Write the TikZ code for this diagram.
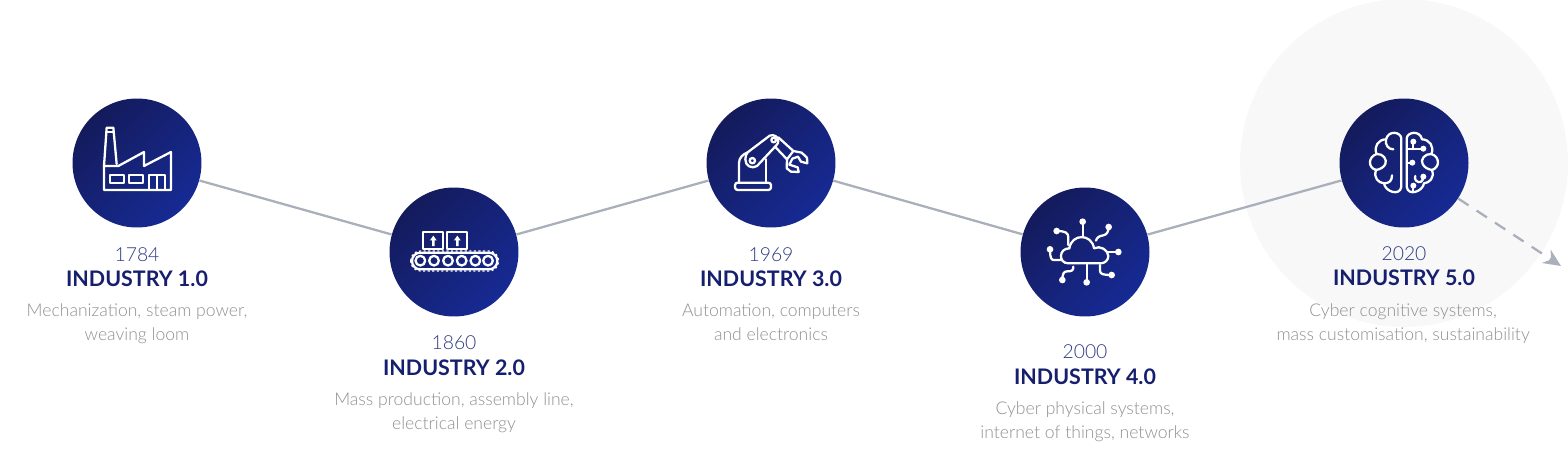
\documentclass[tikz,border=0pt]{standalone}
\usepackage{xcolor}
\usepackage{fontspec}
\setmainfont{Lato}
\newfontfamily\lightfont{Lato Light}
\usetikzlibrary{arrows.meta,positioning}
\definecolor{navydark}{HTML}{141B5C}
\definecolor{navylight}{HTML}{162A94}
\definecolor{titlecol}{HTML}{161F6E}
\definecolor{yearcol}{HTML}{2E3A80}
\definecolor{desccol}{HTML}{8F8F8F}
\definecolor{linkcol}{HTML}{A9B0BB}
\definecolor{halocol}{HTML}{F8F8F9}

\begin{document}
\begin{tikzpicture}[x=0.02cm, y=-0.02cm,
    stage/.style={circle, inner sep=0pt, minimum size=2.58cm, shading=axis, top color=navydark, bottom color=navylight, shading angle=45},
    year/.style={inner sep=0pt, text=yearcol, text height=1.6ex, text depth=0pt, font=\fontsize{11}{13}\lightfont},
    title/.style={inner sep=0pt, text=titlecol, text height=1.6ex, text depth=0pt, font=\fontsize{12.2}{14}\selectfont\bfseries},
    desc/.style={inner sep=0pt, text=desccol, align=center, font=\fontsize{10}{13.6}\lightfont},
    link/.style={draw=linkcol, line width=1.3pt},
    icon/.style n args={3}{shift={(#1.center)}, scale=1/3, shift={(#2,#3)}, draw=white, line width=1.3pt, line join=round, line cap=round},
    pin/.style={fill=white, draw=none}
]
    \useasboundingbox (0,0) rectangle (1568,473);
    % halo behind the last stage
    \fill[halocol] (1404,163) circle[radius=3.28cm];

    % stages
    \node[stage] (ind1) at (137,163) {};
    \node[stage] (ind2) at (454,252) {};
    \node[stage] (ind3) at (771,163) {};
    \node[stage] (ind4) at (1085,252) {};
    \node[stage] (ind5) at (1404,163) {};
    \coordinate (next) at (1561,266);

    % links
    \draw[link] (ind1) -- (ind2);
    \draw[link] (ind2) -- (ind3);
    \draw[link] (ind3) -- (ind4);
    \draw[link] (ind4) -- (ind5);
    \draw[link, dash pattern=on 7pt off 5.5pt, -{Stealth[length=10pt, width=9pt]}] (ind5) -- (next);

    % Industry 1.0
    \node[year, below=0.38cm of ind1] (y1) {1784};
    \node[title, below=0.2cm of y1] (t1) {INDUSTRY 1.0};
    \node[desc, below=0.34cm of t1] (d1) {Mechanization, steam power,\\weaving loom};
    % Industry 2.0
    \node[year, below=0.36cm of ind2] (y2) {1860};
    \node[title, below=0.22cm of y2] (t2) {INDUSTRY 2.0};
    \node[desc, below=0.34cm of t2] (d2) {Mass production, assembly line,\\electrical energy};
    % Industry 3.0
    \node[year, below=0.38cm of ind3] (y3) {1969};
    \node[title, below=0.2cm of y3] (t3) {INDUSTRY 3.0};
    \node[desc, below=0.34cm of t3] (d3) {Automation, computers\\and electronics};
    % Industry 4.0
    \node[year, below=0.54cm of ind4] (y4) {2000};
    \node[title, below=0.22cm of y4] (t4) {INDUSTRY 4.0};
    \node[desc, below=0.34cm of t4] (d4) {Cyber physical systems,\\internet of things, networks};
    % Industry 5.0
    \node[year, below=0.37cm of ind5] (y5) {2020};
    \node[title, below=0.2cm of y5] (t5) {INDUSTRY 5.0};
    \node[desc, below=0.34cm of t5, xshift=-0.5pt] (d5) {Cyber cognitive systems,\\mass customisation, sustainability};

    % factory
    \begin{scope}[icon={ind1}{-231}{-219}]
        \draw[white] (132,300) -- (132,228) -- (175,228) -- (252,186) -- (252,228) -- (333,186) -- (333,300) -- cycle;
        \draw[white] (132,228) -- (140,113) -- (160,113) -- (170,222);
        \draw[white] (139,127) -- (161,127);
        \draw[white] (150,256) rectangle (192,280);
        \draw[white] (208,256) rectangle (250,280);
        \draw[white] (268,300) -- (268,256) -- (314,256) -- (314,300);
        \draw[white] (291,256) -- (291,300);
    \end{scope}

    % conveyor
    \begin{scope}[icon={ind2}{-222}{-216}]
        \draw[white] (130,157) rectangle (190,208);
        \draw[white] (200,157) rectangle (262,208);
        \fill[white] (160,167) -- (170,181) -- (164,181) -- (164,198) -- (156,198) -- (156,181) -- (150,181) -- cycle;
        \fill[white] (232,167) -- (242,181) -- (236,181) -- (236,198) -- (228,198) -- (228,181) -- (222,181) -- cycle;
        \draw[white, rounded corners=4.7pt] (96,218) rectangle (352,268);
        \draw[white, line width=0.7pt, dash pattern=on 1.2pt off 1.4pt, line cap=butt, rounded corners=5.6pt] (92,213) rectangle (356,273);
        \draw[white] (121,242) circle[radius=14.5];
        \draw[white] (162,242) circle[radius=14.5];
        \draw[white] (204,242) circle[radius=14.5];
        \draw[white] (245,242) circle[radius=14.5];
        \draw[white] (286,242) circle[radius=14.5];
        \draw[white] (324,242) circle[radius=14.5];
    \end{scope}

    % robot arm
    \begin{scope}[icon={ind3}{-228}{-219}]
        \draw[white, rounded corners=1.5pt] (120,278) rectangle (228,300);
        \draw[white] (132,278) -- (132,218) .. controls (132,203) and (145,192) .. (158,187);
        \draw[white] (214,278) -- (214,208);
        \draw[white] (158,187) -- (224,137) .. controls (236,132) and (250,140) .. (250,152) .. controls (250,158) and (248,162) .. (244,166) -- (186,228) .. controls (172,238) and (150,228) .. (151,208) .. controls (151,198) and (154,191) .. (158,187);
        \draw[white] (172,212) circle[radius=8];
        \draw[white] (236,150) circle[radius=7];
        \draw[white] (250,142) -- (295,183);
        \draw[white] (240,170) -- (276,208);
        \draw[white] (295,183) -- (320,188) -- (336,203) -- (337,220) -- (318,215) -- (309,200) -- (292,206) -- (283,224) -- (308,232) -- (311,246) -- (288,245) -- (275,235) -- (276,208) -- cycle;
    \end{scope}

    % cloud
    \begin{scope}[icon={ind4}{-225}{-216}]
        \draw[white] (175,250) .. controls (145,250) and (145,205) .. (178,205) .. controls (185,160) and (245,160) .. (252,205) .. controls (270,195) and (295,210) .. (295,228) .. controls (295,240) and (285,250) .. (272,250) -- cycle;
        \draw[white] (218,170) -- (218,125);
        \draw[white] (175,195) -- (175,172) .. controls (175,158) and (165,153) .. (140,153);
        \draw[white] (155,240) -- (132,240) .. controls (124,240) and (120,235) .. (120,208);
        \draw[white] (190,260) .. controls (190,272) and (185,274) .. (172,274) .. controls (162,274) and (157,280) .. (157,300);
        \draw[white] (230,250) -- (230,307);
        \draw[white] (270,255) -- (270,272) .. controls (270,282) and (278,285) .. (305,285);
        \draw[white] (295,216) -- (325,216);
        \draw[white] (258,182) .. controls (260,172) and (268,168) .. (280,166) .. controls (290,164) and (296,155) .. (296,141);
        \fill[pin] (218,125) circle[radius=10];
        \fill[pin] (140,153) circle[radius=10];
        \fill[pin] (120,208) circle[radius=10];
        \fill[pin] (157,300) circle[radius=10];
        \fill[pin] (230,307) circle[radius=10];
        \fill[pin] (305,285) circle[radius=10];
        \fill[pin] (325,216) circle[radius=10];
        \fill[pin] (296,141) circle[radius=10];
    \end{scope}

    % brain
    \begin{scope}[icon={ind5}{-222}{-219}]
        \draw[white] (214,145) .. controls (212,125) and (175,120) .. (168,148) .. controls (145,148) and (130,170) .. (140,192) .. controls (115,200) and (112,232) .. (138,240) .. controls (130,265) and (145,278) .. (162,280) .. controls (165,305) and (210,320) .. (214,290) -- cycle;
        \draw[white] (168,148) .. controls (165,165) and (175,178) .. (190,178);
        \draw[white] (140,192) .. controls (160,190) and (172,210) .. (166,222) .. controls (162,232) and (150,238) .. (138,240);
        \draw[white] (186,256) .. controls (186,272) and (178,280) .. (162,280);
        \draw[white] (230,145) .. controls (232,125) and (270,120) .. (276,148) .. controls (298,148) and (314,170) .. (304,192) .. controls (330,200) and (330,232) .. (306,240) .. controls (314,265) and (298,278) .. (282,280) .. controls (278,305) and (234,320) .. (230,290) -- cycle;
        \draw[white] (304,192) .. controls (284,190) and (270,210) .. (278,222) .. controls (282,232) and (294,238) .. (306,240);
        \draw[white] (230,178) -- (280,178);
        \draw[white] (250,155) -- (250,178);
        \draw[white] (230,218) -- (247,218);
        \draw[white] (280,260) .. controls (280,275) and (268,282) .. (258,272) .. controls (254,268) and (254,262) .. (256,258);
        \draw[white] (250,287) -- (250,306);
        \fill[pin] (280,176) circle[radius=9];
        \fill[pin] (250,155) circle[radius=9];
        \fill[pin] (247,218) circle[radius=9];
        \fill[pin] (280,260) circle[radius=9];
        \fill[pin] (250,287) circle[radius=9];
    \end{scope}
\end{tikzpicture}
\end{document}
